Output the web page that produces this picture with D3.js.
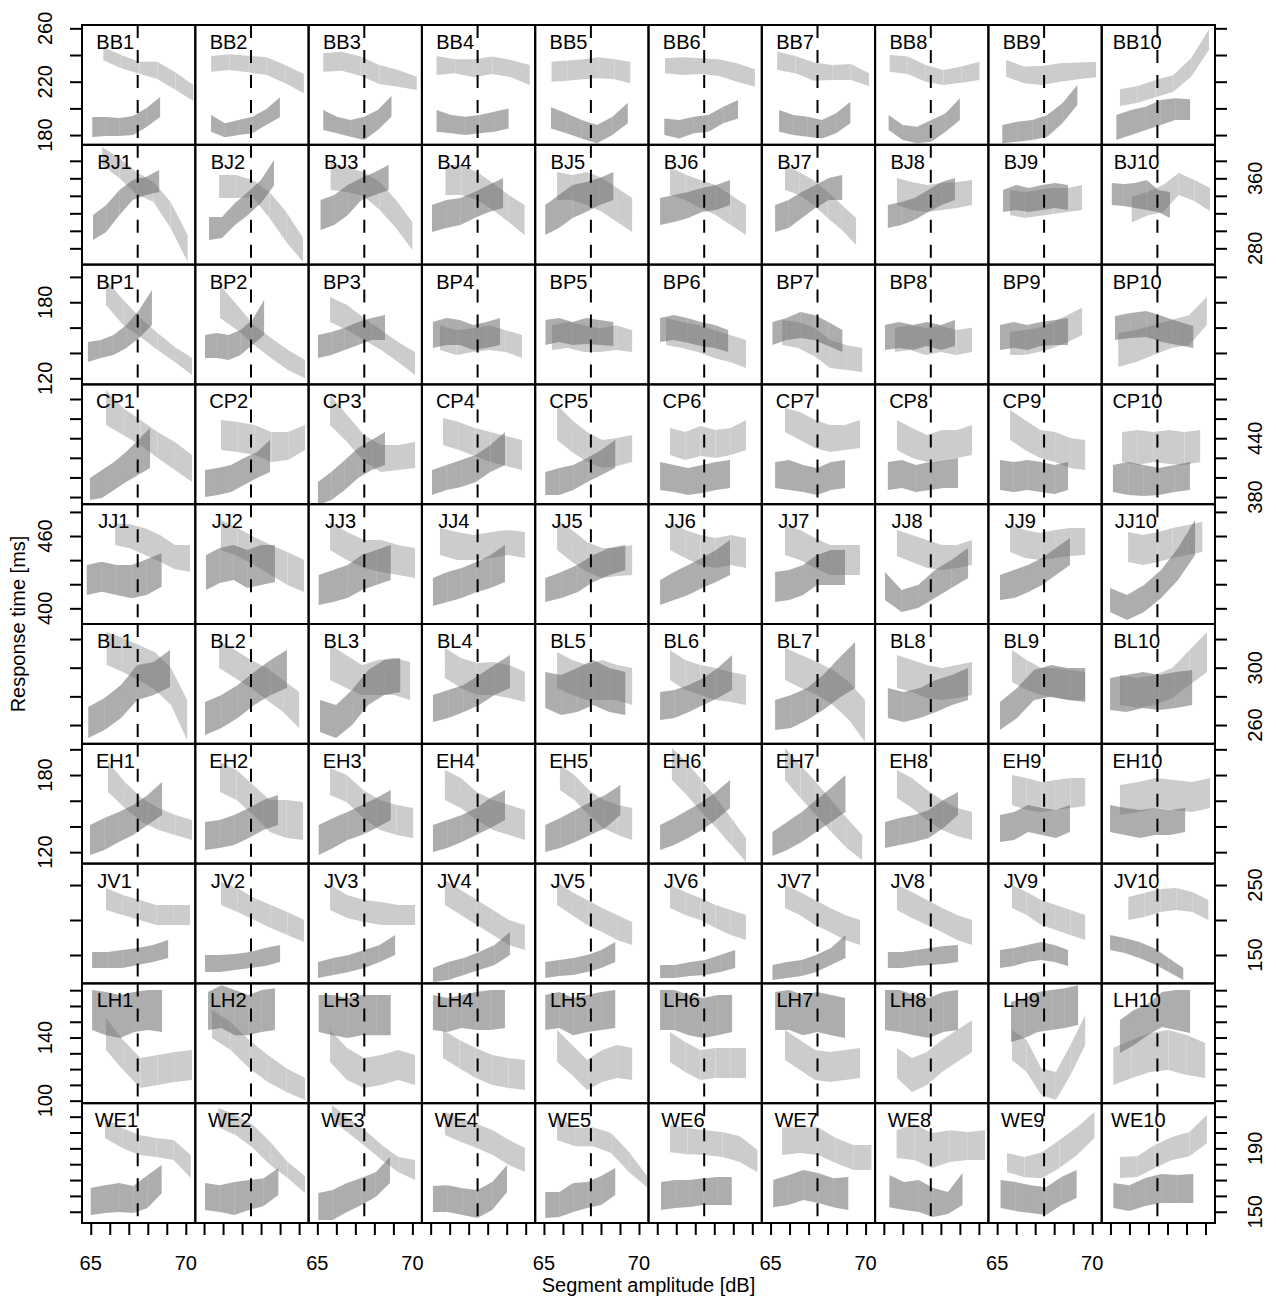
<!DOCTYPE html>
<html>
<head>
<meta charset="utf-8">
<script src="https://cdn.jsdelivr.net/npm/d3@7"></script>
<style>
body { margin: 0; background: #fff; }
text { font-family: "Liberation Sans", Arial, Helvetica, sans-serif; font-size: 20px; fill: #000; }
</style>
</head>
<body>
<div id="chart"></div>
<script>
// rows of the lattice (listeners) and columns (conditions 1..10)
var subjects = ['BB', 'BJ', 'BP', 'CP', 'JJ', 'BL', 'EH', 'JV', 'LH', 'WE'];
var conditions = [1, 2, 3, 4, 5, 6, 7, 8, 9, 10];

var xLimits = [64.54, 70.5];
var xTicks = [65, 66, 67, 68, 69, 70];
var xTickLabels = [65, 70];
var refLevel = 67.47;

var yLimits = [[172.7, 262.5], [261.4, 398.3], [115.2, 209.7], [372.7, 494.9], [387, 486.4],
               [246.9, 330.5], [111.1, 204.3], [109.4, 280.6], [98.4, 174.3], [142.9, 218.5]];
var yTicks = [[180, 200, 220, 240, 260], [280, 300, 320, 340, 360, 380], [120, 140, 160, 180, 200],
              [380, 400, 420, 440, 460, 480], [400, 420, 440, 460, 480], [260, 280, 300, 320],
              [120, 140, 160, 180, 200], [150, 200, 250], [100, 110, 120, 130, 140, 150, 160, 170],
              [150, 160, 170, 180, 190, 200, 210]];
var yTickLabels = [[180, 220, 260], [280, 360], [120, 180], [380, 440], [400, 460],
                   [260, 300], [120, 180], [150, 250], [100, 140], [150, 190]];

// each band: [start dB, end dB, lower edge (ms), upper edge (ms)]
var light_BB = [
  [65.66, 70.4, [236, 230, 226, 222, 214, 205.5], [246, 240, 235, 235, 227, 217.5]],
  [65.37, 70.25, [227.5, 228.8, 227, 225, 218.8, 211.3], [239.3, 240.5, 239.5, 238.3, 232.5, 225.8]],
  [65.31, 70.23, [227.5, 228.3, 224.3, 218.3, 216.3, 213.8], [241.3, 242.5, 238.8, 232.5, 228.8, 223.8]],
  [65.31, 70.21, [225, 226.3, 223.3, 225.8, 223.3, 217.5], [239.3, 236.8, 236.8, 238.8, 236.3, 232.5]],
  [65.4, 69.54, [220, 220.8, 221.8, 222.5, 221.8, 218.8], [235, 235.8, 236.8, 238.3, 236.8, 235]],
  [65.41, 70.14, [226.3, 225, 225.8, 224.3, 220, 216.3], [237.5, 238.3, 237.5, 236.8, 233.8, 229.3]],
  [65.35, 70.18, [228.8, 226.3, 220.8, 221.3, 221.3, 216.8], [242.5, 239.3, 234.3, 232.5, 233.3, 226.3]],
  [65.31, 70.03, [227.5, 225.8, 220, 217.5, 219.3, 221.3], [240, 238.8, 232.5, 228.8, 231.3, 235]],
  [65.47, 70.2, [223.8, 218.8, 217.5, 220, 221.8, 223.3], [236.3, 231.3, 231.8, 233.8, 234.3, 235]],
  [65.5, 70.18, [201.8, 204.3, 208.3, 212.5, 223.8, 243.8], [214.3, 216.8, 221.3, 225, 237.5, 259.3]]
];
var dark_BB = [
  [65.08, 68.65, [178.5, 179.3, 179.3, 180, 186, 193.5], [193.5, 193.5, 192.8, 194.3, 200.3, 208.5]],
  [65.37, 68.99, [182.5, 178.3, 180, 181.3, 187.5, 193.3], [195, 188.8, 191.3, 193.8, 199.3, 208.3]],
  [65.31, 68.9, [183.8, 181.3, 178.8, 176.3, 183.8, 193.8], [198.8, 193.8, 191.3, 193.8, 198.8, 209.3]],
  [65.31, 69.1, [182.5, 181.3, 180, 181.3, 182.5, 185], [198.8, 195, 193.8, 195, 197.5, 200]],
  [65.37, 69.41, [185, 181.3, 177.5, 173.8, 180, 188.8], [200.8, 196.3, 191.3, 187.5, 193.8, 204.3]],
  [65.37, 69.25, [180, 177.5, 181.3, 182.5, 188.8, 192.5], [192.5, 191.3, 193.8, 195, 201.3, 206.3]],
  [65.45, 69.2, [182.5, 180, 178.8, 177.5, 181.3, 188.8], [198.8, 195, 193.8, 191.3, 196.3, 205]],
  [65.25, 69, [183.8, 176.3, 173.8, 175, 182.5, 191.3], [195, 187.5, 186.3, 191.3, 196.3, 207.5]],
  [65.27, 69.22, [173.8, 175, 176.3, 178.8, 188.8, 202.5], [187.5, 190, 191.3, 195, 203.8, 217.5]],
  [65.31, 69.19, [176.3, 180, 183.8, 187.5, 191.3, 191.3], [195, 198.8, 201.3, 206.3, 207.5, 206.8]]
];

var light_BJ = [
  [65.6, 70.1, [375.2, 360.4, 342.1, 332.9, 303.2, 264.3], [395.8, 383.2, 367.2, 355.8, 332.9, 295.2]],
  [65.79, 70.21, [337.5, 337.5, 338.6, 314.6, 287.2, 264.3], [363.8, 363.8, 358.1, 344.4, 321.5, 291.8]],
  [65.7, 70.0, [346.6, 344.4, 339.8, 323.8, 303.2, 278], [377.6, 373, 367.2, 355.8, 335.2, 310]],
  [65.78, 69.94, [340.9, 340.9, 335.2, 323.8, 310, 295.2], [375.2, 375.2, 367.2, 354.7, 341, 329.5]],
  [65.69, 69.64, [335.2, 335.2, 329.5, 321.5, 310, 298.6], [367.2, 363.8, 367.2, 360.4, 349, 337.5]],
  [65.67, 69.67, [340.9, 335.2, 326.1, 318.1, 306.6, 295.2], [372.6, 364.4, 358.1, 352.4, 341, 329.5]],
  [65.76, 69.5, [346.6, 341, 329.5, 314.6, 300.9, 283.8], [375.2, 367.2, 358.1, 344.4, 329.5, 314.6]],
  [65.69, 69.64, [329.5, 323.8, 321.5, 323.8, 326.1, 329.5], [360.4, 355.8, 352.4, 354.7, 355.8, 358.1]],
  [65.68, 69.47, [318.1, 314.6, 316.9, 319.2, 321.5, 323.8], [346.6, 344.4, 346.6, 349, 349, 352.4]],
  [66.12, 70.24, [309.6, 317.4, 321.5, 340.9, 334.1, 322.3], [338.6, 344.4, 352.4, 366.1, 358.1, 349]]
];
var dark_BJ = [
  [65.12, 68.6, [289.5, 298.7, 318.1, 335.2, 341, 344.4], [318.1, 329.5, 346.7, 358.1, 361.5, 369.5]],
  [65.26, 68.68, [289.5, 291.8, 306.6, 318.1, 331.8, 351.7], [315.9, 315.9, 331.8, 344.4, 358.1, 381]],
  [65.17, 68.75, [300.9, 306.6, 318.1, 335.2, 341, 346.6], [335.2, 341, 352.4, 360.4, 367.2, 375.2]],
  [65.07, 68.81, [298.6, 303.2, 306.6, 314.6, 321.5, 326.1], [329.5, 335.2, 337.5, 344.4, 352.4, 360.4]],
  [65.07, 68.65, [295.2, 303.2, 314.6, 321.5, 329.5, 335.2], [329.5, 341, 352.4, 355.8, 360.4, 367.2]],
  [65.15, 68.83, [306.6, 310, 314.6, 321.5, 323.8, 329.5], [337.5, 341, 344.4, 349, 352.4, 358.1]],
  [65.24, 68.77, [298.6, 303.2, 314.6, 326.1, 335.2, 335.2], [329.5, 335.2, 344.4, 352.4, 360.4, 363.8]],
  [65.21, 68.74, [303.2, 306.6, 312.3, 321.5, 329.5, 335.2], [329.5, 332.9, 337.5, 346.7, 355.8, 360.4]],
  [65.31, 68.73, [321.5, 323.8, 321.5, 323.8, 326.1, 323.8], [346.6, 352.4, 349, 352.4, 354.7, 352.4]],
  [65.07, 68.13, [329.5, 328.4, 326.1, 323.8, 321.5, 314.6], [354.7, 353.6, 354.7, 358.1, 346.7, 344.4]]
];

var light_BP = [
  [65.8, 70.33, [177.9, 162.1, 152.6, 142.4, 132.9, 122.6], [197.6, 181.9, 167.6, 155.8, 144.8, 136.1]],
  [65.84, 70.31, [167.6, 158.2, 146.3, 136.1, 126.6, 120], [193.6, 177.9, 162.1, 151.8, 142.4, 134.5]],
  [65.67, 70.14, [164.5, 158.2, 150.3, 142.4, 132.9, 122.6], [184.2, 177.9, 167.6, 158.2, 148.7, 140.8]],
  [65.49, 69.81, [142.4, 138.4, 140.8, 142.4, 140.8, 136.1], [161.8, 158, 159.5, 161.8, 158, 154.2]],
  [65.42, 69.64, [142.4, 144, 140.8, 140.8, 142.4, 140.8], [161.8, 164.5, 161.8, 159.5, 161.8, 158]],
  [65.46, 69.67, [146.3, 144, 140.8, 136.1, 132.9, 128.2], [167.6, 164.5, 162.1, 158.2, 154.2, 150.3]],
  [65.61, 69.82, [146.3, 144, 137.7, 128.2, 126.6, 125], [166, 164.5, 159.8, 150.3, 146.3, 143.9]],
  [65.58, 69.64, [140.8, 142.4, 138.4, 140.8, 138.4, 140.8], [159.8, 162.1, 159.8, 161.3, 158.2, 159.8]],
  [65.68, 69.47, [138.4, 138.4, 140.8, 144, 148.7, 154.2], [156.6, 158.2, 159.8, 164.5, 170, 175.6]],
  [65.41, 70.07, [128.9, 132.9, 138.4, 144, 146.3, 162.1], [155.7, 158.2, 162.1, 166, 170, 184.2]]
];
var dark_BP = [
  [64.85, 68.22, [132.9, 136.1, 138.4, 144, 151.8, 162.1], [148.6, 150.2, 154.2, 162.1, 173.9, 189.7]],
  [65.05, 68.16, [136.1, 136.1, 134.5, 138.4, 146.3, 154.2], [154.2, 155.8, 154.2, 158.2, 166, 181.8]],
  [65.03, 68.56, [136.1, 138.4, 142.4, 146.3, 150.3, 150.3], [154.2, 156.6, 159.8, 164.5, 167.6, 170]],
  [65.12, 68.65, [144, 146.3, 146.3, 142.4, 144, 146.3], [164.5, 167.6, 166, 162.1, 164.5, 167.6]],
  [65.08, 68.65, [146.3, 148.7, 146.3, 147.1, 146.3, 145.5], [166, 167.6, 164.5, 167.6, 166, 164.5]],
  [65.15, 68.73, [148.7, 150.3, 148, 145.5, 144, 140.8], [167.6, 170, 167.6, 164.5, 162.1, 158.2]],
  [65.1, 68.78, [146.3, 150.3, 151.8, 150.3, 145.5, 140.8], [164.5, 167.6, 172.3, 170, 164.5, 158.2]],
  [65.06, 68.74, [142.4, 144, 142.4, 145.5, 142.4, 145.5], [162.1, 164.5, 162.1, 164.5, 162.1, 166]],
  [65.15, 68.73, [142.4, 144, 142.4, 145.5, 146.3, 146.3], [162.1, 164.5, 162.1, 164.5, 166, 167.6]],
  [65.24, 69.36, [150.3, 151.8, 152.6, 148.7, 146.3, 143.9], [169.1, 171.5, 173.1, 169.1, 165.1, 161.2]]
];

var light_CP = [
  [65.8, 70.33, [453.4, 443.2, 433, 419.8, 407.5, 395.3], [489.1, 470.8, 458.5, 446.3, 436.1, 422.8]],
  [65.89, 70.31, [427.9, 425.9, 422.8, 415.7, 417.7, 427.9], [458.5, 456.5, 453.4, 446.3, 446.3, 453.4]],
  [65.67, 70.14, [453.4, 436.1, 415.7, 405.5, 407.5, 409.6], [484, 463.6, 443.2, 433, 433, 436.1]],
  [65.65, 69.81, [433, 428, 421.8, 415.7, 411.6, 407.5], [460.6, 456.5, 450.4, 446.3, 442.2, 438.1]],
  [65.69, 69.64, [438.1, 425.9, 415.7, 409.6, 411.6, 415.7], [473.8, 458.5, 446.3, 438.1, 440.2, 443.2]],
  [65.67, 69.67, [422.8, 417.7, 421.8, 419.8, 422.8, 427.9], [450.4, 446.3, 452.4, 448.3, 450.4, 458.5]],
  [65.76, 69.71, [446.3, 438.1, 430, 425.9, 427.9, 430], [470.8, 466.7, 458.5, 453.4, 453.4, 458.5]],
  [65.69, 69.64, [427.9, 419.8, 415.7, 417.7, 419.8, 422.8], [458.5, 450.4, 443.2, 448.3, 448.3, 453.4]],
  [65.68, 69.63, [438.1, 427.9, 419.8, 415.7, 409.6, 407.5], [468.7, 458.5, 448.3, 446.3, 440.2, 438.1]],
  [65.61, 69.72, [415.7, 412.6, 415.7, 413.7, 412.6, 415.7], [446.3, 448.3, 446.3, 448.3, 446.3, 448.3]]
];
var dark_CP = [
  [64.96, 68.12, [376.9, 379, 387.1, 395.3, 402.4, 409.6], [399.4, 407.5, 415.7, 425.9, 438.1, 450.4]],
  [65.05, 68.47, [380, 382, 385.1, 392.2, 399.4, 405.5], [407.5, 409.6, 412.6, 419.8, 425.9, 438.1]],
  [65.03, 68.56, [371.8, 376.9, 387.1, 399.4, 407.5, 412.6], [395.3, 405.5, 417.7, 430, 438.1, 446.3]],
  [65.07, 68.91, [382, 387.1, 390.2, 395.3, 405.5, 412.6], [407.5, 412.6, 417.7, 422.8, 433, 446.3]],
  [65.07, 68.75, [382, 382, 387.1, 395.3, 402.4, 409.6], [405.5, 409.6, 412.6, 419.8, 428, 438.1]],
  [65.15, 68.83, [387.1, 385.1, 382, 384.1, 387.1, 389.2], [415.7, 412.6, 409.6, 412.6, 415.7, 417.7]],
  [65.24, 68.92, [389.2, 387.1, 385.1, 382, 387.1, 389.2], [415.7, 417.7, 412.6, 409.6, 415.7, 417.7]],
  [65.21, 68.9, [387.1, 389.2, 385.1, 387.1, 389.2, 389.2], [415.7, 417.7, 412.6, 415.7, 417.7, 419.8]],
  [65.15, 68.73, [387.1, 385.1, 387.1, 385.1, 383.1, 387.1], [417.7, 415.7, 417.7, 415.7, 412.6, 415.7]],
  [65.13, 69.18, [385.1, 382, 381, 382, 385.1, 387.1], [412.6, 415.7, 412.6, 409.6, 412.6, 415.7]]
];

var light_JJ = [
  [66.28, 70.22, [452.5, 449.8, 444.2, 438.7, 432.4, 430.4], [470.5, 469.7, 466.4, 460.8, 452.6, 452.6]],
  [65.89, 70.26, [448.4, 443.4, 435.9, 427.7, 419.4, 413.6], [473.3, 466.6, 459.1, 452.5, 446.7, 440.1]],
  [65.67, 70.14, [448.4, 440.1, 433.5, 430.2, 427.7, 425.2], [471.6, 463.3, 456.7, 456.7, 452.5, 450]],
  [65.49, 69.96, [444.2, 440.1, 440.1, 441.7, 444.2, 441.7], [466.6, 463.3, 460.8, 463.3, 465, 463.3]],
  [65.69, 69.64, [448.4, 438.4, 430.2, 425.2, 426.8, 427.7], [473.3, 465, 455, 450, 450, 452.5]],
  [65.67, 69.67, [448.4, 441.7, 436, 433.5, 436, 433.5], [471.6, 465, 460.8, 458.3, 460.8, 458.3]],
  [65.76, 69.71, [444.2, 440.1, 433.5, 427.7, 427.7, 427.7], [469.1, 465, 458.3, 452.5, 452.5, 452.5]],
  [65.69, 69.64, [443.4, 438.4, 433.5, 431.8, 433.5, 436], [465, 460.8, 456.7, 452.5, 452.5, 456.7]],
  [65.68, 69.63, [446.7, 441.7, 440.1, 441.7, 443.4, 444.2], [469.1, 465, 462.5, 465, 466.6, 466.6]],
  [65.93, 69.83, [438.4, 435.9, 438.4, 441.7, 444.2, 446.7], [463.3, 460.8, 463.3, 466.6, 469.1, 471.6]]
];
var dark_JJ = [
  [64.79, 68.73, [411, 413.8, 411, 408.3, 411, 417.9], [435.9, 438.7, 435.9, 435.9, 440.7, 445.6]],
  [65.1, 68.73, [415.2, 421, 423.5, 416.8, 419.4, 421.9], [444.2, 450, 452.5, 448.4, 452.5, 452.5]],
  [65.07, 68.86, [402.7, 405.2, 408.5, 415.2, 419.4, 423.5], [427.7, 431.8, 436, 444.2, 448.4, 452.5]],
  [65.12, 68.91, [401.9, 405.2, 408.5, 413.4, 416.8, 421.9], [425.2, 430.1, 433.5, 438.4, 444.2, 452.5]],
  [65.07, 69.28, [405.2, 408.5, 413.4, 421.9, 427.7, 431.8], [425.2, 430.1, 436, 444.2, 450, 452.5]],
  [65.15, 68.83, [402.7, 406.9, 411, 416.8, 421.9, 427.7], [423.5, 430.1, 436, 441.7, 448.4, 456.7]],
  [65.24, 68.92, [405.2, 406.9, 411, 419.4, 419.4, 419.4], [430.1, 431.8, 436, 444.2, 448.4, 448.4]],
  [65.06, 69.43, [406.9, 396.9, 400.2, 408.5, 416.8, 425.2], [430.1, 415.2, 419.4, 431.8, 440.1, 450]],
  [65.15, 68.83, [406.9, 408.5, 413.4, 419.4, 427.7, 436], [427.7, 431.8, 436, 441.7, 450, 458.3]],
  [64.98, 69.45, [396.9, 390.3, 396.9, 408.5, 423.5, 444.2], [416.8, 411, 419.4, 431.8, 450, 473.3]]
];

var light_BL = [
  [65.84, 70.07, [301.9, 297, 291.4, 284.4, 274, 249.5], [325, 320.8, 315.8, 310.7, 299.8, 277.5]],
  [65.79, 70, [299.8, 292.8, 285.8, 277.5, 269.1, 257.9], [319.3, 312.4, 305.4, 299.8, 291.4, 283]],
  [65.67, 69.88, [291.4, 285.8, 280.9, 280.9, 280.9, 277.5], [315.8, 308.8, 301.9, 305.4, 306.8, 304]],
  [65.75, 69.96, [292.8, 285.8, 280.9, 280.9, 278.8, 276], [313.7, 306.8, 303.3, 304, 301.9, 297]],
  [65.69, 69.64, [285.8, 280.9, 277.5, 277.5, 277.5, 274], [311, 305.4, 301.9, 305.4, 301.9, 299.8]],
  [65.67, 69.67, [291.4, 284.4, 280.9, 277.5, 276.1, 274], [312.4, 305.4, 301.9, 299.8, 297, 294.9]],
  [65.76, 69.97, [291.4, 285.8, 280.9, 274, 263.5, 248.1], [313.7, 308.9, 304, 298.4, 290, 277.5]],
  [65.69, 69.64, [285.8, 283, 278.8, 277.5, 278.8, 280.9], [308.9, 305.4, 301.9, 299.8, 301.9, 304]],
  [65.78, 69.63, [290, 284.4, 280.9, 278.8, 277.5, 277.5], [312.4, 305.4, 299.8, 299.8, 298.4, 297]],
  [65.5, 70.08, [274, 271.9, 274, 278.8, 287.9, 297], [294.9, 292.8, 294.9, 299.8, 312.4, 324.9]]
];
var dark_BL = [
  [64.87, 69.17, [250.9, 256.5, 264.9, 277.5, 280.9, 286.5], [272.6, 278.8, 287.9, 301.9, 304, 312.4]],
  [65.05, 69.36, [253, 257.9, 264.9, 274, 280.9, 285.8], [276.1, 280.9, 287.9, 297, 305.4, 312.4]],
  [65.14, 69.36, [255.1, 250.9, 260, 274, 280.9, 283], [277.5, 274, 284.4, 298.4, 305.4, 306.8]],
  [65.12, 69.17, [262.1, 264.9, 269.1, 274, 280.9, 285.8], [280.9, 284.4, 287.9, 294.9, 301.9, 308.9]],
  [65.07, 69.28, [271.9, 267, 269.1, 274, 269.1, 267], [297, 294.9, 299.8, 305.4, 299.8, 297]],
  [65.15, 68.94, [263.5, 264.9, 269.1, 274, 278.8, 284.4], [283, 284.4, 287.9, 292.8, 299.8, 308.9]],
  [65.24, 69.45, [256.5, 257.9, 263.5, 270.5, 278.8, 285.8], [277.5, 280.9, 285.8, 294.9, 306.8, 317.9]],
  [65.21, 69.43, [264.9, 262.1, 264.9, 269.1, 274, 277.5], [285.8, 283, 285.8, 291.4, 294.9, 299.8]],
  [65.15, 69.63, [256.5, 264.9, 277.5, 279.8, 277.5, 276.1], [276.1, 285.8, 298.4, 301.9, 299.8, 299.8]],
  [64.98, 69.3, [270.5, 269.1, 271.9, 270.5, 271.9, 274], [292.8, 294.9, 297, 294.9, 297, 298.4]]
];

var light_EH = [
  [65.91, 70.33, [166.8, 154.3, 143.4, 137.2, 133.3, 129.4], [190.1, 174.6, 162.1, 154.3, 148.9, 145]],
  [65.84, 70.21, [166.8, 160.6, 148.9, 135.7, 131, 129.4], [190.1, 183.9, 172.2, 160.6, 160.6, 159]],
  [65.67, 70.04, [164.4, 159, 146.5, 137.2, 133.3, 131], [185.4, 180, 168.3, 160.6, 156.7, 154.3]],
  [65.75, 69.96, [160.6, 154.3, 145, 137.2, 133.3, 129.4], [183.9, 177.7, 166.8, 160.6, 156.7, 152.8]],
  [65.84, 69.64, [168.3, 160.6, 148.9, 138.8, 133.3, 129.4], [187.8, 180, 168.3, 160.6, 156.7, 154.3]],
  [65.77, 69.67, [176.1, 164.4, 151.2, 138.8, 125.5, 112.3], [201, 190.1, 176.1, 162.1, 146.5, 131]],
  [65.76, 69.82, [176.1, 162.1, 148.9, 135.7, 123.2, 113.9], [201, 187.8, 174.6, 160.6, 146.5, 133.3]],
  [65.69, 69.64, [162.1, 154.3, 145, 137.2, 132.5, 129.4], [183.9, 177.7, 168.3, 160.6, 154.3, 151.2]],
  [65.78, 69.63, [156.7, 152.8, 151.2, 152.8, 154.3, 155.9], [180, 177.7, 174.6, 176.1, 177.7, 177.7]],
  [65.5, 70.24, [148.9, 151.2, 154.3, 152.8, 151.2, 154.3], [172.2, 174.6, 177.7, 176.1, 174.6, 177.7]]
];
var dark_EH = [
  [64.96, 68.75, [117.8, 121.7, 127.9, 133.3, 141.1, 148.9], [141.1, 146.5, 151.2, 156.7, 164.4, 174.6]],
  [65.05, 68.89, [121.7, 123.2, 125.5, 131, 137.2, 141.1], [143.4, 145, 148.9, 154.3, 160.6, 164.4]],
  [65.07, 68.86, [117.8, 123.2, 129.4, 133.3, 138.8, 145], [141.1, 146.5, 151.2, 156.7, 162.1, 168.3]],
  [65.12, 68.91, [120.1, 123.2, 127.9, 133.3, 138.8, 145], [141.1, 145, 148.9, 154.3, 162.1, 168.3]],
  [65.07, 69.02, [120.1, 123.2, 127.9, 133.3, 138.8, 148.9], [141.1, 146.5, 152.8, 159, 164.4, 172.2]],
  [65.15, 68.83, [121.7, 125.5, 131, 137.2, 145, 154.3], [141.1, 146.5, 152.8, 159, 166.8, 176.1]],
  [65.1, 68.94, [117, 121.7, 127.9, 135.7, 143.4, 151.2], [135.7, 143.4, 151.2, 160.6, 169.9, 180]],
  [65.06, 68.9, [123.2, 125.5, 127.9, 131, 138.8, 148.9], [143.4, 146.5, 148.9, 152.8, 160.6, 166.8]],
  [65.15, 68.83, [127.9, 129.4, 135.7, 133.3, 131, 135.7], [148.9, 151.2, 156.7, 154.3, 152.8, 156.7]],
  [64.98, 68.93, [135.7, 133.3, 131, 133.3, 133.3, 135.7], [156.7, 154.3, 152.8, 154.3, 152.8, 154.3]]
];

var light_JV = [
  [65.8, 70.22, [214.3, 207.2, 200, 192.9, 192.9, 192.9], [245.7, 235.7, 228.6, 221.5, 221.5, 221.5]],
  [65.89, 70.26, [221.5, 211.5, 200, 188.6, 178.6, 168.6], [254.3, 245.7, 231.5, 221.5, 211.5, 200]],
  [65.67, 70.14, [214.3, 202.9, 197.2, 192.9, 192.9, 192.9], [250, 235.7, 228.6, 225.7, 221.5, 221.5]],
  [65.75, 69.96, [221.5, 207.2, 192.9, 178.6, 164.3, 157.1], [257.2, 242.9, 228.6, 214.3, 200, 192.9]],
  [65.69, 69.64, [221.5, 207.2, 192.9, 182.9, 171.4, 164.3], [254.3, 240, 228.6, 217.2, 207.2, 197.2]],
  [65.67, 69.67, [217.2, 207.2, 200, 188.6, 178.6, 171.4], [250, 240, 231.5, 221.5, 214.3, 207.2]],
  [65.76, 69.71, [217.2, 207.2, 192.9, 182.9, 171.4, 164.3], [250, 240, 228.6, 217.2, 207.2, 200]],
  [65.69, 69.64, [214.3, 202.9, 192.9, 182.9, 171.4, 164.3], [250, 240, 228.6, 217.2, 207.2, 200]],
  [65.78, 69.63, [217.2, 207.2, 192.9, 185.7, 178.6, 171.4], [250, 240, 228.6, 221.5, 214.3, 207.2]],
  [65.94, 70.15, [200, 204.3, 211.5, 214.3, 211.5, 200], [232.9, 238.6, 244.3, 245.7, 240, 228.6]]
];
var dark_JV = [
  [65.07, 69.07, [131.4, 131.4, 131.4, 135.7, 140, 145.7], [154.3, 154.3, 157.1, 160, 164.3, 171.4]],
  [65.05, 69, [125.7, 125.7, 128.6, 131.4, 134.3, 140], [150, 150, 151.4, 154.3, 160, 164.3]],
  [65.03, 69.09, [117.1, 121.4, 125.7, 131.4, 140, 150], [140, 145.7, 150, 157.1, 164.3, 178.6]],
  [65.12, 69.17, [111.4, 114.3, 121.4, 128.6, 135.7, 150], [131.4, 140, 145.7, 154.3, 164.3, 182.9]],
  [65.07, 68.75, [117.1, 120, 121.4, 125.7, 131.4, 140], [140, 142.9, 145.7, 150, 157.1, 168.6]],
  [65.15, 69.1, [117.1, 117.1, 120, 121.4, 125.7, 131.4], [135.7, 135.7, 140, 142.9, 150, 157.1]],
  [65.1, 68.94, [114.3, 117.1, 120, 125.7, 135.7, 145.7], [135.7, 140, 142.9, 150, 160, 178.6]],
  [65.21, 68.9, [131.4, 131.4, 134.3, 135.7, 137.1, 140], [154.3, 154.3, 157.1, 160, 162.9, 164.3]],
  [65.15, 68.73, [131.4, 134.3, 140, 142.9, 140, 134.3], [157.1, 160, 164.3, 168.6, 164.3, 157.1]],
  [64.98, 68.83, [157.1, 152.9, 145.7, 137.1, 125.7, 114.3], [178.6, 174.3, 168.6, 160, 145.7, 131.4]]
];

var light_LH = [
  [65.8, 70.33, [132.1, 119.4, 108, 109.9, 111.8, 113.1], [152.3, 138.4, 127, 128.9, 130.8, 132.1]],
  [65.42, 70.31, [139.7, 132.1, 120.6, 111.8, 105.5, 100.4], [157.4, 149.8, 138.4, 128.9, 120.6, 114.3]],
  [65.67, 70.14, [124.5, 113.1, 108, 109.9, 113.1, 109.9], [144.7, 133.3, 127, 128.9, 132.1, 128.9]],
  [65.65, 69.96, [127, 120.6, 114.3, 109.9, 108, 106.7], [144.7, 138.4, 133.3, 128.9, 127, 125.8]],
  [65.69, 69.64, [124.5, 116.2, 106.7, 111.8, 114.3, 113.1], [144.7, 135.2, 125.8, 132.1, 135.2, 133.3]],
  [65.67, 69.67, [124.5, 118.1, 113.1, 114.3, 114.3, 114.3], [143.5, 137.1, 132.1, 133.3, 133.3, 133.3]],
  [65.76, 69.71, [125.8, 119.4, 113.1, 111.8, 113.1, 114.3], [144.7, 138.4, 132.1, 130.8, 132.1, 133.3]],
  [65.69, 69.64, [114.3, 105.5, 109.9, 118.1, 124.5, 130.8], [133.3, 127, 130.8, 138.4, 144.7, 151]],
  [65.78, 69.63, [125.8, 118.1, 103.6, 100.4, 116.2, 135.2], [144.7, 138.4, 120.6, 118.1, 135.2, 154.2]],
  [65.15, 69.98, [109.9, 114.4, 118.2, 119.4, 116.3, 114.4], [133.4, 138.4, 142.9, 144.8, 141.6, 136.5]]
];
var dark_LH = [
  [65.07, 68.75, [144.7, 141.5, 139.7, 143.5, 144.7, 143.5], [170.1, 168.8, 166.9, 168.8, 170.1, 170.1]],
  [65.21, 68.73, [144.7, 146, 141.5, 141.5, 143.5, 144.7], [168.8, 173.2, 170.1, 166.9, 170.1, 171.3]],
  [65.07, 68.86, [143.5, 141.5, 139.7, 141.5, 141.5, 141.5], [166.9, 166.9, 165, 166.9, 166.9, 166.9]],
  [65.12, 68.91, [144.7, 143.5, 146, 144.7, 144.7, 146], [166.9, 165, 166.9, 168.8, 170.1, 170.1]],
  [65.07, 68.75, [144.7, 146, 141.5, 143.5, 144.7, 146], [166.9, 168.8, 165, 166.9, 168.8, 170.1]],
  [65.15, 68.94, [144.7, 144.7, 141.5, 139.7, 141.5, 143.5], [170.1, 170.1, 166.9, 165, 166.9, 166.9]],
  [65.24, 68.92, [144.7, 144.7, 141.5, 143.5, 141.5, 139.7], [168.8, 170.1, 166.9, 168.8, 166.9, 165]],
  [65.06, 68.9, [144.7, 143.5, 141.5, 139.7, 143.5, 144.7], [170.1, 170.1, 166.9, 165, 168.8, 170.1]],
  [65.73, 69.26, [137.1, 139.7, 143.5, 144.7, 146, 147.9], [162.5, 165, 168.8, 170.1, 171.3, 173.2]],
  [65.5, 69.19, [130.2, 135.2, 141.6, 146.6, 144.7, 142.9], [151.1, 157.4, 161.2, 168.8, 170.1, 170.1]]
];

var light_WE = [
  [65.75, 70.26, [196.5, 190.2, 185.8, 184.5, 182.6, 171.3], [209.1, 202.8, 198.4, 196.5, 195.2, 185.8]],
  [65.75, 70.31, [203.4, 198.4, 190.2, 179.5, 171.3, 161.8], [215.4, 211, 204.7, 194, 181.4, 172.5]],
  [65.76, 70.14, [207.8, 199.7, 191.4, 182.6, 175, 170], [217.3, 209.1, 201.5, 192.1, 184.5, 182.6]],
  [65.75, 69.96, [198.4, 194, 190.2, 185.8, 179.5, 175.1], [212.8, 209.1, 205.3, 201.5, 195.2, 190.2]],
  [65.69, 70.43, [195.2, 191.4, 191.4, 187, 175, 165.5], [211, 202.8, 203.4, 199.7, 187.6, 172.5]],
  [65.67, 70.27, [187.6, 186.3, 185.8, 184.5, 181.4, 175], [204.7, 202.8, 201.5, 200.3, 197.7, 188.9]],
  [65.61, 70.31, [185.8, 187, 185.8, 180.7, 176.3, 176.3], [203.4, 203.4, 203.4, 196.5, 192.1, 192.1]],
  [65.67, 70.32, [183.9, 182.6, 177.6, 181.4, 182.6, 182.6], [201.5, 205.3, 199.6, 201.5, 200.3, 201.5]],
  [65.52, 70.12, [175, 171.8, 171.2, 177.6, 185.8, 196.5], [187, 184.5, 187.6, 195.2, 203.4, 212.9]],
  [65.5, 70.07, [171.3, 171.9, 177.6, 182.6, 185.1, 193.3], [184.5, 185.1, 192.1, 197.1, 200.3, 211]]
];
var dark_WE = [
  [65, 68.73, [147.9, 149.2, 149.8, 149.2, 152.3, 161.7], [165, 166.8, 168.1, 166.2, 173.1, 179.5]],
  [65.05, 68.91, [151.1, 149.8, 147.9, 151.1, 153.6, 160.5], [168.1, 166.8, 168.7, 170, 171.2, 177.6]],
  [65.05, 68.82, [144.8, 144.8, 149.8, 154.2, 159.3, 168.1], [161.8, 163.7, 168.1, 171.3, 175, 184.5]],
  [65.12, 69.02, [149.8, 149.8, 147.9, 146, 151.1, 162.4], [166.2, 166.8, 164.9, 163.7, 168.7, 179.5]],
  [65.07, 68.75, [146, 146.7, 149.8, 152.3, 154.2, 160.5], [162.4, 162.4, 168.1, 168.7, 172.5, 177.6]],
  [65.2, 68.92, [151.1, 152.3, 153, 154.2, 154.2, 154.2], [168.7, 170, 170, 171.2, 171.9, 171.9]],
  [65.14, 69.09, [152.9, 154.2, 157.4, 155.5, 152.9, 151.1], [170, 173.1, 176.3, 174.4, 171.2, 171.9]],
  [65.29, 69.14, [152.9, 151.1, 149.8, 146.7, 148.6, 154.2], [173.2, 168.7, 170, 165, 162.4, 174.4]],
  [65.18, 69.18, [152.3, 150.4, 149.2, 147.9, 154.2, 158.6], [170, 168.7, 166.8, 165.5, 171.9, 176.3]],
  [65.15, 69.36, [152.3, 150.4, 153.6, 155.5, 155.5, 155.5], [168.1, 166.8, 171.3, 173.8, 173.2, 173.8]]
];

var lightBands = [light_BB, light_BJ, light_BP, light_CP, light_JJ, light_BL, light_EH, light_JV, light_LH, light_WE];
var darkBands = [dark_BB, dark_BJ, dark_BP, dark_CP, dark_JJ, dark_BL, dark_EH, dark_JV, dark_LH, dark_WE];

// layout
var svgWidth = 1276, svgHeight = 1302;
var margin = { left: 82, top: 25 };
var panelW = 113.3, panelH = 119.8;
var gridRight = margin.left + panelW * 10;
var gridBottom = margin.top + panelH * 10;

var lightFill = '#cccccc';
var darkFill = '#676767', darkOpacity = 0.54;

var svg = d3.select('#chart')
    .append('svg')
    .attr('width', svgWidth)
    .attr('height', svgHeight);

var defs = svg.append('defs');

// one small area per segment, as in the original (seams between pieces)
function drawBand(g, band, x, y, fill, opacity) {
    var x0 = band[0], x1 = band[1], lo = band[2], hi = band[3];
    var n = lo.length;
    var pts = lo.map(function(v, i) {
        return { x: x0 + (x1 - x0) * i / (n - 1), lo: v, hi: hi[i] };
    });
    var area = d3.area()
        .x(d => x(d.x))
        .y0(d => y(d.lo))
        .y1(d => y(d.hi));
    for (var i = 0; i < n - 1; i++) {
        g.append('path')
            .attr('d', area([pts[i], pts[i + 1]]))
            .attr('fill', fill)
            .attr('fill-opacity', opacity);
    }
}

subjects.forEach(function(subj, r) {
    var rowTop = margin.top + r * panelH;
    var y = d3.scaleLinear()
        .domain(yLimits[r])
        .range([rowTop + panelH, rowTop]);

    conditions.forEach(function(cond, c) {
        var L = margin.left + c * panelW;
        var x = d3.scaleLinear()
            .domain(xLimits)
            .range([L, L + panelW]);

        var clipId = 'clip' + r + '_' + c;
        defs.append('clipPath')
            .attr('id', clipId)
            .append('rect')
            .attr('x', L)
            .attr('y', rowTop)
            .attr('width', panelW)
            .attr('height', panelH);

        var g = svg.append('g').attr('clip-path', 'url(#' + clipId + ')');
        drawBand(g, lightBands[r][c], x, y, lightFill, 1);
        drawBand(g, darkBands[r][c], x, y, darkFill, darkOpacity);

        g.append('line')
            .attr('x1', x(refLevel))
            .attr('x2', x(refLevel))
            .attr('y1', rowTop)
            .attr('y2', rowTop + panelH)
            .attr('stroke', '#000')
            .attr('stroke-width', 2)
            .attr('stroke-dasharray', '13,12');

        var label = svg.append('text')
            .attr('y', rowTop + 24)
            .text(subj + cond);
        var w = label.node().getComputedTextLength();
        label.attr('x', L + 25.7 - 0.3 * w);

        svg.append('rect')
            .attr('x', L)
            .attr('y', rowTop)
            .attr('width', panelW)
            .attr('height', panelH)
            .attr('fill', 'none')
            .attr('stroke', '#000')
            .attr('stroke-width', 2);

        // bottom axis on the last row
        if (r === subjects.length - 1) {
            var bottomAxis = d3.axisBottom(x)
                .tickValues(xTicks)
                .tickSize(12)
                .tickFormat('');
            var ax = svg.append('g')
                .attr('transform', `translate(0, ${gridBottom})`)
                .call(bottomAxis);
            ax.select('.domain').remove();
            ax.selectAll('line').attr('stroke', '#000').attr('stroke-width', 2);

            if (c % 2 === 0) {
                xTickLabels.forEach(function(v) {
                    svg.append('text')
                        .attr('x', x(v))
                        .attr('y', gridBottom + 47)
                        .attr('text-anchor', 'middle')
                        .text(v);
                });
            }
        }
    });

    // y ticks on both sides, labels alternate left / right
    var leftAxis = d3.axisLeft(y).tickValues(yTicks[r]).tickSize(12).tickFormat('');
    var rightAxis = d3.axisRight(y).tickValues(yTicks[r]).tickSize(12).tickFormat('');
    var la = svg.append('g').attr('transform', `translate(${margin.left}, 0)`).call(leftAxis);
    var ra = svg.append('g').attr('transform', `translate(${gridRight}, 0)`).call(rightAxis);
    [la, ra].forEach(function(a) {
        a.select('.domain').remove();
        a.selectAll('line').attr('stroke', '#000').attr('stroke-width', 2);
    });

    var labelX = (r % 2 === 0) ? 52 : 1262;
    yTickLabels[r].forEach(function(v) {
        svg.append('text')
            .attr('transform', `translate(${labelX}, ${y(v)}) rotate(-90)`)
            .attr('text-anchor', 'middle')
            .text(v);
    });
});

svg.append('text')
    .attr('x', (margin.left + gridRight) / 2)
    .attr('y', 1292)
    .attr('text-anchor', 'middle')
    .text('Segment amplitude [dB]');

svg.append('text')
    .attr('transform', `translate(25, ${(margin.top + gridBottom) / 2}) rotate(-90)`)
    .attr('text-anchor', 'middle')
    .text('Response time [ms]');
</script>
</body>
</html>
